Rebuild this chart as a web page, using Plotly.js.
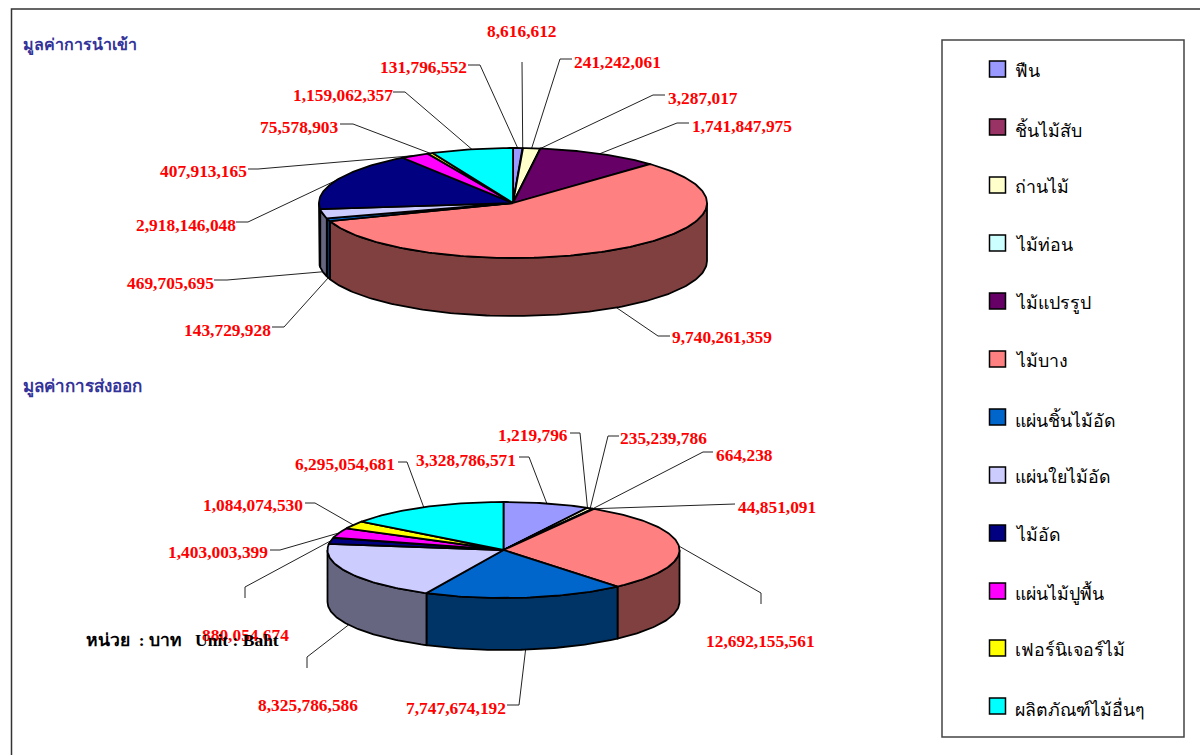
<!DOCTYPE html>
<html><head><meta charset="utf-8">
<script src="https://cdn.plot.ly/plotly-3.0.1.min.js"></script>
<style>html,body{margin:0;padding:0;background:#fff}#c{width:1200px;height:755px}</style>
</head><body><div id="c"></div>
<script>
const categories = ["ฟืน","ชิ้นไม้สับ","ถ่านไม้","ไม้ท่อน","ไม้แปรรูป","ไม้บาง","แผ่นชิ้นไม้อัด","แผ่นใยไม้อัด","ไม้อัด","แผ่นไม้ปูพื้น","เฟอร์นิเจอร์ไม้","ผลิตภัณฑ์ไม้อื่นๆ"];
const importValues = [131796552,8616612,241242061,3287017,1741847975,9740261359,143729928,469705695,2918146048,407913165,75578903,1159062357];
const exportValues = [3328786571,1219796,235239786,664238,44851091,12692155561,7747674192,8325786586,880054674,1403003399,1084074530,6295054681];
const topColors = ["#9999FF","#993366","#FFFFCC","#CCFFFF","#660066","#FF8080","#0066CC","#CCCCFF","#000080","#FF00FF","#FFFF00","#00FFFF"];
const sideColors = ["#4D4D80","#4D1A33","#808066","#668080","#330033","#804040","#003366","#666680","#000040","#800080","#808000","#008080"];

// label placement in page pixels: [label x, label y, anchor, knot x, knot y, end x, end y]
const importPlacement = [
  [467,67,"right",480,65,468,65],[522,31,"center",522,62,522,62],[574,62,"left",560,59,572,59],
  [668,98,"left",653,95,665,95],[692,126,"left",677,123,689,123],[672,337,"left",658,336,670,336],
  [271,330,"right",284,327,272,327],[214,283,"right",227,280,214,280],[236,225,"right",248,222,236,222],
  [247,171,"right",258,169,248,169],[339,127,"right",353,124,340,124],[393,95,"right",405,92,393,92]];
const exportPlacement = [
  [516,460,"right",529,457,519,457],[568,435,"right",580,433,570,433],[620,438,"left",608,436,619,436],
  [716,455,"left",703,452,713,452],[738,507,"left",735,504,735,504],[815,641,"right",761,593,761,604],
  [506,708,"right",519,705,507,705],[358,705,"right",307,657,307,668],[289,635,"right",245,587,245,598],
  [268,552,"right",280,550,270,550],[303,505,"right",315,503,305,503],[395,464,"right",407,462,398,462]];

const importPie = {cx:513,cy:203,rx:194,ry:55,depth:58};
const exportPie = {cx:503.5,cy:550,rx:176,ry:48,depth:52};
const legendY = [69,127,185,243,301,359,417,475,533,591,648,706];

const SERIF = "'Liberation Serif','Noto Sans','DejaVu Sans',serif";
const fmt = v => v.toLocaleString("en-US");

function arc(p,a0,a1,dy){
  const n = Math.max(2,Math.ceil((a1-a0)/(Math.PI/180))), xs=[], ys=[];
  for(let i=0;i<=n;i++){const a=a0+(a1-a0)*i/n; xs.push(p.cx+p.rx*Math.sin(a)); ys.push(p.cy-p.ry*Math.cos(a)+dy);}
  return [xs,ys];
}
function poly(xs,ys,fill){
  return {type:"scatter",mode:"lines",x:xs,y:ys,fill:"toself",fillcolor:fill,
    line:{color:"#000",width:1.8,shape:"linear"},hoverinfo:"skip",showlegend:false};
}
function pieTraces(values,p){
  const total = values.reduce((a,b)=>a+b,0), side=[], top=[];
  let cum=0;
  values.forEach((v,i)=>{
    const a0=cum/total*2*Math.PI; cum+=v; const a1=cum/total*2*Math.PI;
    const s0=Math.max(a0,Math.PI/2), s1=Math.min(a1,Math.PI*1.5);
    if(s1>s0){
      const [ux,uy]=arc(p,s0,s1,0), [lx,ly]=arc(p,s0,s1,p.depth);
      side.push(poly(ux.concat(lx.slice().reverse(),[ux[0]]),uy.concat(ly.slice().reverse(),[uy[0]]),sideColors[i]));
    }
    const [tx,ty]=arc(p,a0,a1,0);
    top.push(poly([p.cx].concat(tx,[p.cx]),[p.cy].concat(ty,[p.cy]),topColors[i]));
  });
  return side.concat(top);
}
function leaderTraces(values,p,place){
  const total=values.reduce((a,b)=>a+b,0); let cum=0;
  return values.map((v,i)=>{
    const m=(cum+v/2)/total*2*Math.PI; cum+=v;
    const rimX=p.cx+p.rx*Math.sin(m);
    const rimY=p.cy-p.ry*Math.cos(m)+(Math.cos(m)<0?p.depth:0);
    const q=place[i];
    return {type:"scatter",mode:"lines",x:[rimX,q[3],q[5]],y:[rimY,q[4],q[6]],
      line:{color:"#222",width:1},hoverinfo:"skip",showlegend:false};
  });
}
function labelNotes(values,place){
  return values.map((v,i)=>({xref:"x",yref:"y",x:place[i][0],y:place[i][1],xanchor:place[i][2],yanchor:"middle",
    text:"<b>"+fmt(v)+"</b>",showarrow:false,font:{family:SERIF,size:17.4,color:"#FF0000"},borderpad:0,borderwidth:0}));
}
const textNote=(x,y,t,size,color,bold)=>({xref:"x",yref:"y",x:x,y:y,xanchor:"left",yanchor:"middle",
  text:bold?"<b>"+t+"</b>":t,showarrow:false,font:{family:SERIF,size:size,color:color},borderpad:0});

const legendTrace={type:"scatter",mode:"markers",x:legendY.map(()=>997.5),y:legendY,
  marker:{symbol:"square",size:16,color:topColors,line:{color:"#000",width:1.5}},hoverinfo:"skip",showlegend:false};

const traces=[].concat(
  leaderTraces(importValues,importPie,importPlacement),
  leaderTraces(exportValues,exportPie,exportPlacement),
  pieTraces(importValues,importPie),
  pieTraces(exportValues,exportPie),
  [legendTrace]);

const axis=r=>({range:r,visible:false,fixedrange:true,showgrid:false,zeroline:false});
const layout={
  width:1200,height:755,margin:{l:0,r:0,t:0,b:0},paper_bgcolor:"#fff",plot_bgcolor:"#fff",
  xaxis:axis([0,1200]),yaxis:axis([755,0]),showlegend:false,
  shapes:[
    {type:"rect",xref:"x",yref:"y",x0:11.5,y0:9,x1:1215,y1:770,line:{color:"#333",width:1.5},layer:"below"},
    {type:"rect",xref:"x",yref:"y",x0:942,y0:40,x1:1184,y1:737,line:{color:"#444",width:1.5},fillcolor:"#fff",layer:"below"}
  ],
  annotations:[].concat(
    labelNotes(importValues,importPlacement),
    labelNotes(exportValues,exportPlacement),
    categories.map((c,i)=>textNote(1014,legendY[i]+2,c,17.8,"#000",false)),
    [textNote(22,46,"มูลค่าการนำเข้า",16,"#333399",true),
     textNote(22,387,"มูลค่าการส่งออก",17,"#333399",true),
     textNote(85,640,"หน่วย  : บาท   Unit : Baht",17.5,"#000",true)])
};
Plotly.newPlot("c",traces,layout,{staticPlot:true,displayModeBar:false});
</script></body></html>
